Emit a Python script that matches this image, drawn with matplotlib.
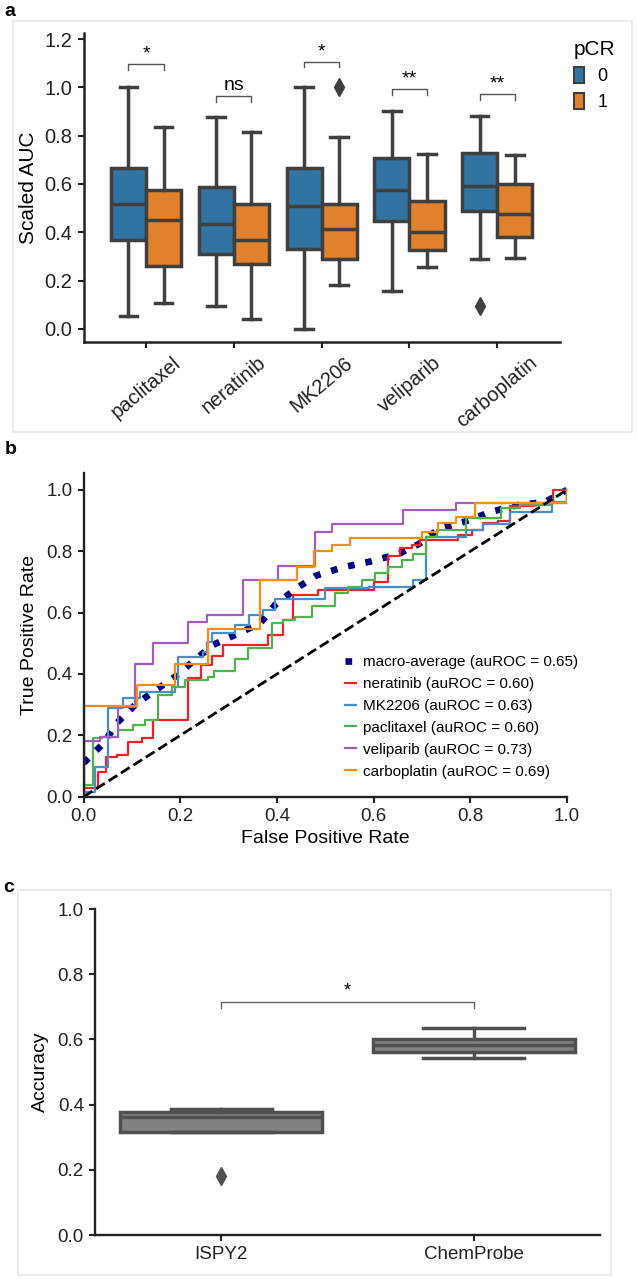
import matplotlib
matplotlib.use('Agg')
import matplotlib.pyplot as plt
from matplotlib.patches import Rectangle, Patch

plt.rcParams['font.family'] = ['Liberation Sans', 'DejaVu Sans']

# ---- panel a data: scaled AUC boxes per drug, pCR 0 / 1
drugs = ['paclitaxel', 'neratinib', 'MK2206', 'veliparib', 'carboplatin']
q1_0 = [0.368, 0.312, 0.329, 0.447, 0.488]
med_0 = [0.516, 0.433, 0.509, 0.575, 0.592]
q3_0 = [0.668, 0.589, 0.668, 0.709, 0.727]
lo_0 = [0.055, 0.097, 0.0, 0.156, 0.288]
hi_0 = [1.0, 0.878, 1.0, 0.903, 0.882]
fl_0 = [[], [], [], [], [0.097]]
q1_1 = [0.26, 0.27, 0.29, 0.326, 0.382]
med_1 = [0.451, 0.368, 0.415, 0.401, 0.474]
q3_1 = [0.575, 0.516, 0.516, 0.53, 0.599]
lo_1 = [0.108, 0.041, 0.18, 0.257, 0.294]
hi_1 = [0.834, 0.816, 0.796, 0.723, 0.72]
fl_1 = [[], [], [1.0], [], []]
sig_labels = ['*', 'ns', '*', '**', '**']
sig_y = [1.096, 0.965, 1.107, 0.993, 0.972]

# ---- panel b data: ROC step curves (fpr, tpr corners)
ner_fpr = [0, 0, 0.029, 0.047, 0.068, 0.092, 0.12, 0.144, 0.216, 0.243, 0.266, 0.288, 0.382, 0.413,
           0.433, 0.485, 0.60, 0.63, 0.654, 0.679, 0.696, 0.775, 0.803, 0.827, 0.858, 0.882, 0.93, 0.972, 1.0]
ner_tpr = [0, 0.027, 0.08, 0.13, 0.135, 0.179, 0.19, 0.25, 0.386, 0.43, 0.46, 0.495, 0.527, 0.576,
           0.658, 0.674, 0.70, 0.783, 0.81, 0.82, 0.837, 0.853, 0.87, 0.891, 0.897, 0.946, 0.957, 1.0, 1.0]
mk_fpr = [0, 0, 0.023, 0.051, 0.082, 0.116, 0.189, 0.196, 0.247, 0.256, 0.265, 0.313, 0.341, 0.37,
          0.396, 0.50, 0.59, 0.682, 0.709, 0.79, 0.827, 0.882, 0.968, 1.0]
mk_tpr = [0, 0.016, 0.098, 0.288, 0.321, 0.342, 0.359, 0.456, 0.47, 0.505, 0.533, 0.56, 0.592, 0.61,
          0.645, 0.68, 0.685, 0.707, 0.848, 0.87, 0.89, 0.929, 0.96, 1.0]
pac_fpr = [0, 0, 0.02, 0.037, 0.072, 0.103, 0.127, 0.154, 0.182, 0.21, 0.258, 0.27, 0.313, 0.34, 0.389,
           0.413, 0.437, 0.472, 0.52, 0.547, 0.575, 0.603, 0.63, 0.658, 0.682, 0.708, 0.73, 0.79, 0.864,
           0.902, 0.964, 1.0]
pac_tpr = [0, 0.038, 0.19, 0.196, 0.217, 0.234, 0.25, 0.33, 0.359, 0.38, 0.39, 0.41, 0.45, 0.484, 0.565,
           0.576, 0.587, 0.62, 0.663, 0.685, 0.707, 0.728, 0.75, 0.772, 0.79, 0.848, 0.87, 0.908, 0.94,
           0.95, 0.96, 1.0]
vel_fpr = [0, 0, 0.034, 0.072, 0.106, 0.144, 0.216, 0.256, 0.33, 0.402, 0.479, 0.513, 0.661, 0.771, 1.0]
vel_tpr = [0, 0.18, 0.196, 0.293, 0.433, 0.50, 0.571, 0.592, 0.707, 0.752, 0.864, 0.889, 0.933, 0.957, 1.0]
car_fpr = [0, 0, 0.11, 0.188, 0.257, 0.365, 0.441, 0.477, 0.513, 0.552, 0.699, 0.734, 0.771, 0.81, 1.0]
car_tpr = [0, 0.296, 0.364, 0.432, 0.547, 0.707, 0.75, 0.80, 0.821, 0.843, 0.864, 0.891, 0.913, 0.957, 1.0]
macro_fpr = [0, 0.041, 0.068, 0.106, 0.144, 0.189, 0.23, 0.268, 0.317, 0.365, 0.396, 0.441, 0.48,
             0.537, 0.592, 0.651, 0.694, 0.734, 0.789, 0.844, 0.899, 0.954, 1.0]
macro_tpr = [0.11, 0.174, 0.239, 0.299, 0.342, 0.391, 0.446, 0.495, 0.53, 0.565, 0.625, 0.68, 0.72,
             0.748, 0.766, 0.791, 0.824, 0.872, 0.897, 0.929, 0.951, 0.96, 1.0]
roc_names = ['neratinib', 'MK2206', 'paclitaxel', 'veliparib', 'carboplatin']
roc_auc = [0.60, 0.63, 0.60, 0.73, 0.69]
macro_auc = 0.65

# ---- panel c data: accuracy
cohorts = ['ISPY2', 'ChemProbe']
acc_q1 = [0.315, 0.562]
acc_med = [0.362, 0.583]
acc_q3 = [0.378, 0.600]
acc_lo = [0.315, 0.544]
acc_hi = [0.385, 0.636]
acc_fl = [[0.182], []]

W, H = 637, 1279
fig = plt.figure(figsize=(W / 100, H / 100), dpi=100)


def px_axes(l, t, r, b):
    return fig.add_axes([l / W, 1 - b / H, (r - l) / W, (b - t) / H])


def frame(l, t, r, b):
    fig.patches.append(Rectangle((l / W, 1 - b / H), (r - l) / W, (b - t) / H,
                                 transform=fig.transFigure, fill=False,
                                 edgecolor='#e8e8e8', lw=1.2))


def style(ax, lw=1.8, size=13.5):
    for s in ['top', 'right']:
        ax.spines[s].set_visible(False)
    for s in ['left', 'bottom']:
        ax.spines[s].set_linewidth(lw)
        ax.spines[s].set_color('#222222')
    ax.tick_params(direction='out', length=4.5, width=1.5, labelsize=size, colors='#222222')


frame(13, 21, 632, 432)
frame(18, 890, 611, 1275)
fig.text(10 / W, 1 - 11 / H, 'a', fontsize=14, fontweight='bold', ha='center', va='center')
fig.text(11 / W, 1 - 450 / H, 'b', fontsize=14, fontweight='bold', ha='center', va='center')
fig.text(9 / W, 1 - 888 / H, 'c', fontsize=14, fontweight='bold', ha='center', va='center')

# ---- panel a
gray = '#3f3f3f'
blue, orange = '#3274a1', '#e1812c'
axa = px_axes(83.7, 33, 560, 342)
for q1, md, q3, lo, hi, fl, col, off in [
        (q1_0, med_0, q3_0, lo_0, hi_0, fl_0, blue, -0.2),
        (q1_1, med_1, q3_1, lo_1, hi_1, fl_1, orange, 0.2)]:
    stats = [dict(q1=q1[i], med=md[i], q3=q3[i], whislo=lo[i], whishi=hi[i], fliers=fl[i])
             for i in range(len(drugs))]
    axa.bxp(stats, positions=[i + off for i in range(len(drugs))], widths=0.4,
            patch_artist=True, manage_ticks=False,
            boxprops=dict(facecolor=col, edgecolor=gray, lw=2.5),
            medianprops=dict(color=gray, lw=2.5),
            whiskerprops=dict(color=gray, lw=2.5),
            capprops=dict(color=gray, lw=2.5),
            flierprops=dict(marker='d', markerfacecolor=gray, markeredgecolor=gray, markersize=9))
for i, (lab, yb) in enumerate(zip(sig_labels, sig_y)):
    x1, x2 = i - 0.2, i + 0.2
    axa.plot([x1, x1, x2, x2], [yb - 0.024, yb, yb, yb - 0.024], color='#555555', lw=1)
    axa.text(i, yb + 0.006, lab, ha='center', va='bottom', fontsize=14)
axa.set_xlim(-0.71, 4.715)
axa.set_ylim(-0.054, 1.225)
axa.set_xticks(range(len(drugs)))
axa.set_xticklabels(drugs, rotation=40)
axa.set_yticks([0, 0.2, 0.4, 0.6, 0.8, 1.0, 1.2])
axa.set_yticklabels(['0.0', '0.2', '0.4', '0.6', '0.8', '1.0', '1.2'])
axa.set_ylabel('Scaled AUC', fontsize=15, labelpad=5)
style(axa, size=14.5)
handles = [Patch(facecolor=blue, edgecolor=gray, lw=1.5, label='0'),
           Patch(facecolor=orange, edgecolor=gray, lw=1.5, label='1')]
fig.legend(handles=handles, title='pCR', loc='upper left', bbox_to_anchor=(574 / W, 1 - 40 / H),
           frameon=False, fontsize=13, title_fontsize=15, handlelength=0.55, handleheight=0.95,
           handletextpad=0.75, labelspacing=0.45, borderpad=0, borderaxespad=0, alignment='left')

# ---- panel b
axb = px_axes(83.7, 473, 567, 796.7)
roc_cols = ['#ec2227', '#4590cc', '#4db34a', '#a35cbf', '#ff8c12']
axb.plot(macro_fpr, macro_tpr, color='navy', ls=':', lw=4.8,
         label='macro-average (auROC = %.2f)' % macro_auc)
curves = [(ner_fpr, ner_tpr), (mk_fpr, mk_tpr), (pac_fpr, pac_tpr), (vel_fpr, vel_tpr), (car_fpr, car_tpr)]
for (fx, fy), name, auc, col in zip(curves, roc_names, roc_auc, roc_cols):
    axb.plot(fx, fy, drawstyle='steps-post', color=col, lw=1.6, label='%s (auROC = %.2f)' % (name, auc))
axb.plot([0, 1], [0, 1], 'k--', lw=2)
axb.set_xlim(0, 1)
axb.set_ylim(0, 1.055)
axb.set_xticks([0, 0.2, 0.4, 0.6, 0.8, 1.0])
axb.set_yticks([0, 0.2, 0.4, 0.6, 0.8, 1.0])
axb.set_xlabel('False Positive Rate', fontsize=14, labelpad=4)
axb.set_ylabel('True Positive Rate', fontsize=14, labelpad=6)
style(axb, lw=1.7)
axb.legend(loc='upper left', bbox_to_anchor=(345 / W, 1 - 655 / H), bbox_transform=fig.transFigure,
           frameon=False, fontsize=11, handlelength=0.7, handletextpad=0.45, labelspacing=0.52,
           borderpad=0, borderaxespad=0)

# ---- panel c
axc = px_axes(95, 909, 600, 1235)
cg = '#505050'
stats = [dict(q1=acc_q1[i], med=acc_med[i], q3=acc_q3[i], whislo=acc_lo[i], whishi=acc_hi[i],
              fliers=acc_fl[i]) for i in range(len(cohorts))]
axc.bxp(stats, positions=range(len(cohorts)), widths=0.8, patch_artist=True,
        boxprops=dict(facecolor='#828282', edgecolor=cg, lw=2.5),
        medianprops=dict(color=cg, lw=2.5),
        whiskerprops=dict(color=cg, lw=2.5),
        capprops=dict(color=cg, lw=2.5),
        flierprops=dict(marker='d', markerfacecolor=cg, markeredgecolor=cg, markersize=9))
axc.plot([0, 0, 1, 1], [0.695, 0.716, 0.716, 0.695], color='#666666', lw=1)
axc.text(0.5, 0.722, '*', ha='center', va='bottom', fontsize=13)
axc.set_xlim(-0.5, 1.5)
axc.set_ylim(0, 1.0)
axc.set_xticks(range(len(cohorts)))
axc.set_xticklabels(cohorts)
axc.set_yticks([0, 0.2, 0.4, 0.6, 0.8, 1.0])
axc.set_ylabel('Accuracy', fontsize=14, labelpad=6)
style(axc, lw=1.7)

fig.savefig('out.png', dpi=100)
